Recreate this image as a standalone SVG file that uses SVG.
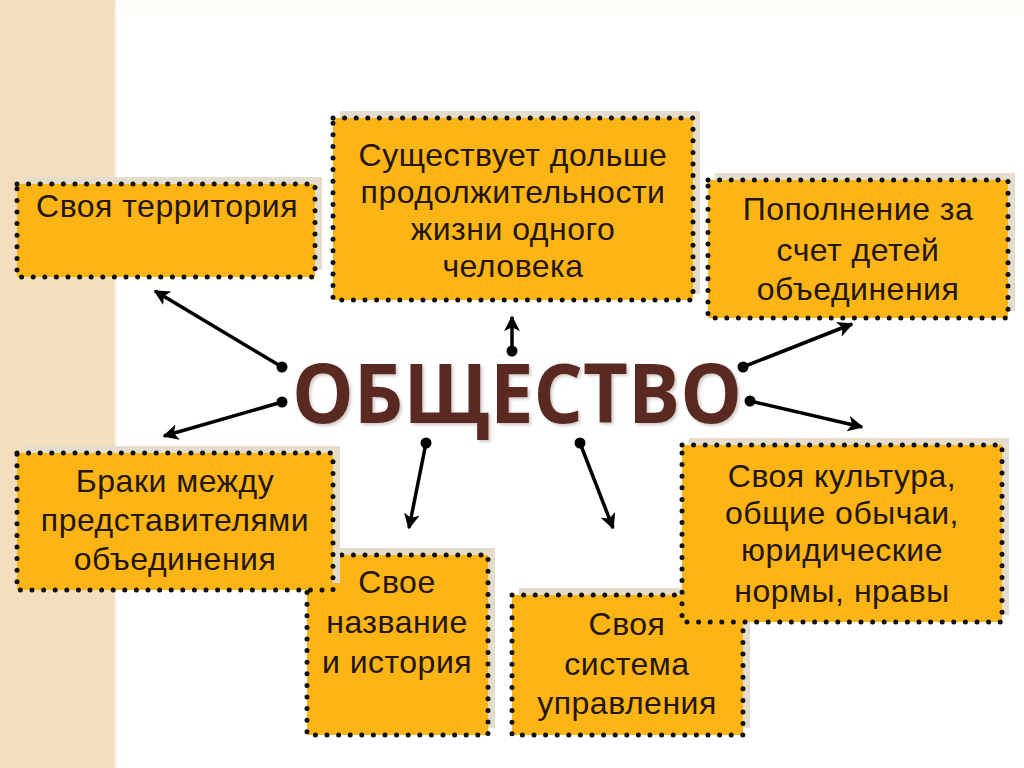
<svg xmlns="http://www.w3.org/2000/svg" width="1024" height="768" viewBox="0 0 1024 768">
  <defs>
    <style>
      .shadow { fill: #E4DCCD; }
      .box { fill: #FDB515; stroke: #111; stroke-width: 5; stroke-dasharray: 0 11.6; stroke-linecap: round; }
      .txt { font-family: "Liberation Sans", Arial, sans-serif; font-size: 32px; letter-spacing: 0.5px; fill: #24160C; text-anchor: middle; }
      .conn { stroke: #000; stroke-width: 3.5; fill: none; marker-end: url(#arrow); }
      .dot { fill: #000; }
      .title { font-family: "Open Sans", "Liberation Sans", sans-serif; font-weight: bold; font-size: 82px; fill: #5A2C20; filter: url(#tshadow); }
    </style>
    <filter id="tshadow" x="-5%" y="-20%" width="110%" height="140%">
      <feDropShadow dx="2" dy="2" stdDeviation="1.5" flood-color="#9A8A80" flood-opacity="0.45"/>
    </filter>
    <marker id="arrow" viewBox="0 0 10 10" refX="9" refY="5" markerWidth="4.5" markerHeight="4.5" orient="auto" markerUnits="strokeWidth">
      <path d="M0,0 L10,5 L0,10 L2.5,5 Z" fill="#000"/>
    </marker>
    <linearGradient id="edge" x1="0" x2="1" y1="0" y2="0">
      <stop offset="0" stop-color="#E8D6B4"/>
      <stop offset="1" stop-color="#FFFFFF" stop-opacity="0"/>
    </linearGradient>
  </defs>

  <rect x="0" y="0" width="1024" height="768" fill="#FFFFFF"/>
  <rect x="0" y="0" width="113" height="768" fill="#F3DFBD"/>
  <rect x="113" y="0" width="6" height="768" fill="url(#edge)"/>
  <rect x="119" y="0" width="905" height="15" fill="#FCFDF9"/>

  <g id="node-sushestvuet">
    <rect class="shadow" x="340" y="111" width="360" height="183"/>
    <rect class="box" x="333" y="118" width="360" height="182"/>
    <text class="txt" x="513" y="166">Существует дольше</text>
    <text class="txt" x="513" y="203">продолжительности</text>
    <text class="txt" x="513" y="240">жизни одного</text>
    <text class="txt" x="513" y="277">человека</text>
  </g>

  <g id="node-territoriya">
    <rect class="shadow" x="24" y="177" width="298" height="93"/>
    <rect class="box" x="17" y="184" width="298" height="93"/>
    <text class="txt" x="167" y="217">Своя территория</text>
  </g>

  <g id="node-popolnenie">
    <rect class="shadow" x="715" y="173" width="300" height="138"/>
    <rect class="box" x="708" y="180" width="300" height="138"/>
    <text class="txt" x="858" y="220">Пополнение за</text>
    <text class="txt" x="858" y="261">счет детей</text>
    <text class="txt" x="858" y="300">объединения</text>
  </g>

  <g id="node-nazvanie">
    <rect class="shadow" x="314" y="548" width="181" height="180"/>
    <rect class="box" x="307" y="555" width="181" height="180"/>
    <text class="txt" x="397" y="593">Свое</text>
    <text class="txt" x="397" y="633">название</text>
    <text class="txt" x="397" y="673">и история</text>
  </g>

  <g id="node-braki">
    <rect class="shadow" x="24" y="446" width="316" height="137"/>
    <rect class="box" x="17" y="453" width="316" height="137"/>
    <text class="txt" x="175" y="492">Браки между</text>
    <text class="txt" x="175" y="531">представителями</text>
    <text class="txt" x="175" y="570">объединения</text>
  </g>

  <g id="node-sistema">
    <rect class="shadow" x="519" y="588" width="231" height="140"/>
    <rect class="box" x="512" y="595" width="231" height="140"/>
    <text class="txt" x="627" y="635">Своя</text>
    <text class="txt" x="627" y="675">система</text>
    <text class="txt" x="627" y="714">управления</text>
  </g>

  <g id="node-kultura">
    <rect class="shadow" x="689" y="438" width="320" height="177"/>
    <rect class="box" x="682" y="445" width="320" height="177"/>
    <text class="txt" x="842" y="487">Своя культура,</text>
    <text class="txt" x="842" y="524">общие обычаи,</text>
    <text class="txt" x="842" y="561">юридические</text>
    <text class="txt" x="842" y="602">нормы, нравы</text>
  </g>

  <g id="node-obshestvo">
    <text class="title" x="292" y="423" textLength="450" lengthAdjust="spacingAndGlyphs">ОБЩЕСТВО</text>
  </g>

  <g id="connectors">
    <line class="conn" x1="282" y1="367" x2="155" y2="291"/>
    <line class="conn" x1="282" y1="402" x2="164" y2="436"/>
    <line class="conn" x1="512" y1="351" x2="512" y2="317"/>
    <line class="conn" x1="743" y1="367" x2="852" y2="324"/>
    <line class="conn" x1="750" y1="401" x2="862" y2="427"/>
    <line class="conn" x1="426" y1="443" x2="409" y2="528"/>
    <line class="conn" x1="580" y1="443" x2="613" y2="528"/>
    <circle class="dot" cx="282" cy="367" r="5.5"/>
    <circle class="dot" cx="282" cy="402" r="5.5"/>
    <circle class="dot" cx="512" cy="351" r="5.5"/>
    <circle class="dot" cx="743" cy="367" r="5.5"/>
    <circle class="dot" cx="750" cy="401" r="5.5"/>
    <circle class="dot" cx="426" cy="443" r="5.5"/>
    <circle class="dot" cx="580" cy="443" r="5.5"/>
  </g>
</svg>
